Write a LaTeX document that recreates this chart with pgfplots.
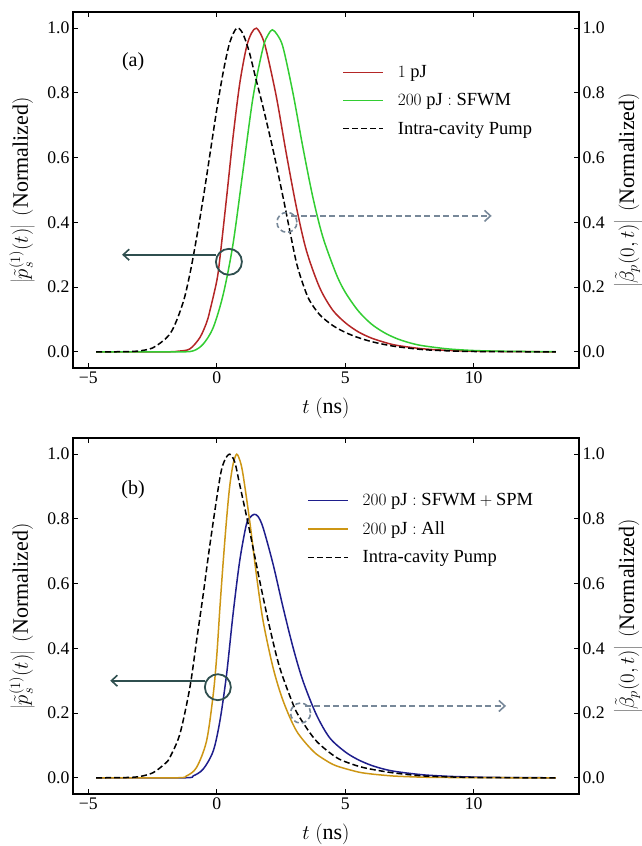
\documentclass[border=0pt]{standalone}
\usepackage{fontspec}
\setmainfont{Liberation Serif}
\usepackage{pgfplots}
\pgfplotsset{compat=1.18}
\usetikzlibrary{arrows.meta}

\definecolor{cred}{RGB}{180,38,38}
\definecolor{cgreen}{RGB}{50,205,50}
\definecolor{cblue}{RGB}{30,30,140}
\definecolor{corange}{RGB}{205,150,20}
\definecolor{dsg}{RGB}{47,79,79}
\definecolor{lsg}{RGB}{119,136,153}

\pgfplotsset{
  base/.style={
    scale only axis, width=506pt, height=356pt,
    xmin=-5.6, xmax=14.1, ymin=-0.05, ymax=1.05,
    xtick={-5,0,5,10}, xticklabels={−5,0,5,10},
    ytick={0,0.2,0.4,0.6,0.8,1.0},
    yticklabels={0.0,0.2,0.4,0.6,0.8,1.0},
    tick align=inside, major tick length=5pt,
    tick style={black, line width=0.9pt},
    axis line style={line width=1.1pt},
    tick label style={font=\fontsize{17.7}{20}\selectfont},
    label style={font=\fontsize{22}{26}\selectfont},
    xlabel style={at={(axis description cs:0.5,-0.1124)}, anchor=center},
  },
  left/.style={
    base, tick pos=both, xticklabel pos=lower, yticklabel pos=left,
    ylabel style={at={(axis description cs:-0.1008,0.5)}, anchor=center},
    ylabel={$\left|\tilde{p}^{(1)}_s(t)\right|\ \mathrm{(Normalized)}$},
    xlabel={$t\ \mathrm{(ns)}$},
  },
  right/.style={
    base, hide x axis, axis y line*=right,
    y axis line style={draw=none}, ytick style={draw=none},
    yticklabel pos=right,
    ylabel style={at={(axis description cs:1.0988,0.5)}, anchor=center},
    ylabel={$\left|\tilde{\beta}_p(0,t)\right|\ \mathrm{(Normalized)}$},
  },
  leg/.style={
    legend cell align=left,
    legend style={draw=none, fill=none, inner sep=0pt, row sep=10.5pt,
      font=\fontsize{18.5}{22}\selectfont,
      /tikz/every odd column/.append style={column sep=12pt}},
    legend image code/.code={\draw[##1] (0pt,0pt) -- (40pt,0pt);},
  },
}

\begin{document}
\begin{tikzpicture}[x=1pt,y=1pt]
% ---------------- panel (a) ----------------
\begin{axis}[left, leg, at={(73pt,478pt)}, anchor=south west,
  legend style={at={(axis description cs:0.532,0.856)}, anchor=north west}]
\addplot[line width=1.5pt, smooth, cred] coordinates {
(-4.7,0) (-2.0,0) (-1.5,0.002) (-1.05,0.009) (-0.66,0.044) (-0.4,0.09) (-0.27,0.127)
(0.0,0.22) (0.12,0.29) (0.38,0.477) (0.63,0.663) (0.89,0.828) (1.15,0.94) (1.35,0.985)
(1.54,1.0) (1.75,0.975) (1.93,0.93) (2.32,0.787) (2.71,0.61) (3.1,0.446) (3.49,0.312)
(4.0,0.199) (4.5,0.13) (5.0,0.09) (5.5,0.062) (6.0,0.043) (6.5,0.03) (7.0,0.02)
(8.0,0.0095) (9.0,0.0045) (10.0,0.002) (11.0,0.001) (12.0,0.0004) (13.2,0)};
\addlegendentry{$1\ \mathrm{pJ}$}
\addplot[line width=1.5pt, smooth, cgreen] coordinates {
(-4.7,0) (-1.5,0) (-0.92,0.003) (-0.53,0.024) (-0.14,0.075) (0.25,0.178) (0.63,0.333)
(1.02,0.56) (1.41,0.787) (1.8,0.94) (2.0,0.98) (2.16,0.995) (2.35,0.98) (2.58,0.94)
(2.97,0.797) (3.35,0.632) (3.74,0.477) (4.13,0.354) (4.65,0.24) (5.0,0.184) (5.5,0.127)
(6.0,0.087) (6.5,0.06) (7.0,0.041) (7.5,0.028) (8.0,0.019) (9.0,0.009) (10.0,0.004)
(11.0,0.002) (12.0,0.001) (13.2,0.0003)};
\addlegendentry{$200\ \mathrm{pJ}:\mathrm{SFWM}$}
\addplot[line width=1.5pt, smooth, black, dash pattern=on 6pt off 3pt] coordinates {
(-4.7,0) (-3.5,0.0005) (-3.0,0.003) (-2.5,0.012) (-2.0,0.04) (-1.75,0.065) (-1.5,0.11)
(-1.25,0.17) (-1.0,0.26) (-0.75,0.37) (-0.5,0.49) (-0.25,0.62) (0.0,0.75) (0.25,0.865)
(0.5,0.955) (0.77,1.0) (1.0,0.985) (1.25,0.93) (1.5,0.85) (1.8,0.756) (2.2,0.62)
(2.58,0.477) (2.84,0.374) (3.1,0.275) (3.35,0.21) (3.6,0.16) (4.0,0.115) (4.5,0.082)
(5.0,0.06) (5.5,0.044) (6.0,0.032) (6.5,0.023) (7.0,0.016) (8.0,0.007) (9.0,0.003)
(10.0,0.001) (11.0,0.0004) (13.2,0)};
\addlegendentry{Intra-cavity Pump}
\node[font=\fontsize{20}{24}\selectfont] at (axis cs:-3.26,0.897) {(a)};
\draw[dsg, line width=1.8pt] (axis cs:0.47,0.278) circle[radius=13pt];
\draw[dsg, line width=1.6pt, -{Straight Barb[length=6pt,width=11pt]}]
  (axis cs:-0.03,0.30) -- (axis cs:-3.69,0.30);
\draw[lsg, line width=1.6pt, dash pattern=on 5pt off 3pt] (axis cs:2.73,0.40) circle[radius=10pt];
\draw[lsg, line width=1.6pt, dash pattern=on 6pt off 3.5pt, -{Straight Barb[length=6pt,width=11pt]}]
  (axis cs:2.9,0.42) -- (axis cs:10.7,0.42);
\end{axis}
\begin{axis}[right, at={(73pt,478pt)}, anchor=south west]
\end{axis}
% ---------------- panel (b) ----------------
\begin{axis}[left, leg, at={(73pt,52pt)}, anchor=south west,
  legend style={at={(axis description cs:0.4625,0.850)}, anchor=north west}]
\addplot[line width=1.5pt, smooth, cblue] coordinates {
(-4.7,0) (-1.3,0) (-0.92,0.006) (-0.53,0.027) (-0.14,0.083) (0.12,0.176) (0.38,0.32)
(0.63,0.505) (0.89,0.67) (1.15,0.783) (1.3,0.805) (1.45,0.814) (1.6,0.808) (1.8,0.773)
(2.19,0.66) (2.58,0.526) (2.97,0.402) (3.35,0.30) (3.87,0.196) (4.39,0.124) (5.0,0.08)
(5.5,0.056) (6.0,0.039) (6.5,0.027) (7.0,0.019) (8.0,0.0095) (9.0,0.0047) (10.0,0.0023)
(11.0,0.001) (12.0,0.0005) (13.2,0)};
\addlegendentry{$200\ \mathrm{pJ}:\mathrm{SFWM}+\mathrm{SPM}$}
\addplot[line width=1.5pt, smooth, corange] coordinates {
(-4.7,0) (-1.6,0) (-1.18,0.006) (-0.79,0.032) (-0.4,0.114) (-0.14,0.258) (0.0,0.38)
(0.12,0.526) (0.25,0.67) (0.38,0.80) (0.5,0.9) (0.63,0.968) (0.77,1.0) (0.9,0.98)
(1.02,0.937) (1.28,0.793) (1.54,0.628) (1.8,0.485) (2.19,0.34) (2.58,0.238) (3.1,0.145)
(3.74,0.083) (4.2,0.056) (4.65,0.037) (5.5,0.018) (6.0,0.012) (6.5,0.008) (7.0,0.005)
(8.0,0.002) (9.0,0.001) (10.0,0.0004) (13.2,0)};
\addlegendentry{$200\ \mathrm{pJ}:\mathrm{All}$}
\addplot[line width=1.5pt, smooth, black, dash pattern=on 6pt off 3pt] coordinates {
(-4.7,0) (-3.5,0.001) (-3.0,0.004) (-2.48,0.016) (-2.0,0.045) (-1.83,0.063) (-1.44,0.135)
(-1.05,0.279) (-0.79,0.423) (-0.53,0.567) (-0.27,0.72) (0.12,0.927) (0.3,0.98) (0.5,1.0)
(0.7,0.975) (0.89,0.906) (1.28,0.762) (1.67,0.608) (2.06,0.464) (2.45,0.34) (2.97,0.227)
(3.23,0.186) (3.87,0.114) (4.65,0.063) (5.2,0.044) (5.69,0.032) (6.33,0.022) (7.0,0.014)
(8.0,0.006) (9.0,0.003) (10.0,0.001) (11.0,0.0004) (13.2,0)};
\addlegendentry{Intra-cavity Pump}
\node[font=\fontsize{20}{24}\selectfont] at (axis cs:-3.26,0.891) {(b)};
\draw[dsg, line width=1.8pt] (axis cs:0.04,0.28) circle[radius=13pt];
\draw[dsg, line width=1.6pt, -{Straight Barb[length=6pt,width=11pt]}]
  (axis cs:-0.47,0.30) -- (axis cs:-4.15,0.30);
\draw[lsg, line width=1.6pt, dash pattern=on 5pt off 3pt] (axis cs:3.26,0.20) circle[radius=10pt];
\draw[lsg, line width=1.6pt, dash pattern=on 6pt off 3.5pt, -{Straight Barb[length=6pt,width=11pt]}]
  (axis cs:3.42,0.222) -- (axis cs:11.26,0.222);
\end{axis}
\begin{axis}[right, at={(73pt,52pt)}, anchor=south west]
\end{axis}
\pgfresetboundingbox
\useasboundingbox (0pt,0pt) rectangle (642pt,846pt);
\end{tikzpicture}
\end{document}
